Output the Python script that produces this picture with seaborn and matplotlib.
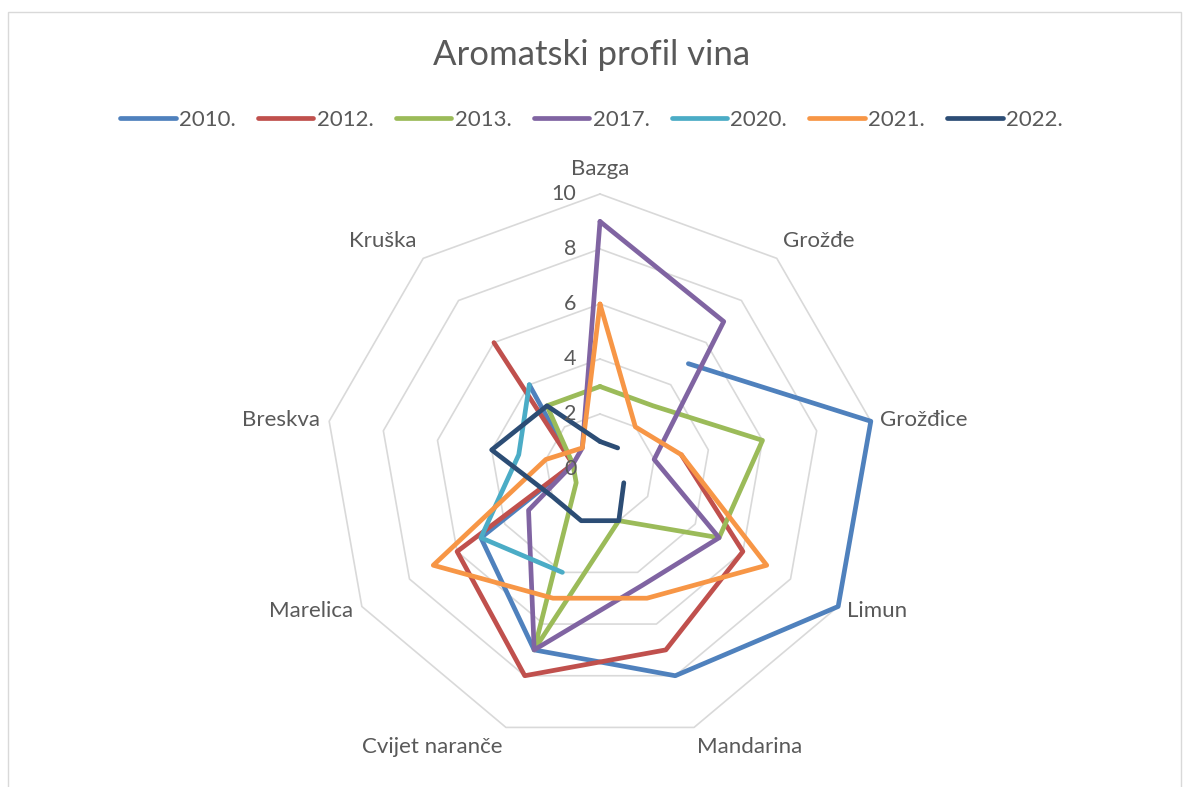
#!/usr/bin/env python3
#
# Aromatski profil vina - radar chart
#
import numpy as np
import pandas as pd
import matplotlib
matplotlib.use('Agg')
import matplotlib.pyplot as plt
from matplotlib.patches import Rectangle
import seaborn as sns

sns.set_style('white')
plt.rcParams['font.family'] = ['Lato', 'DejaVu Sans']

# Categories (clockwise from top)
categories = ['Bazga', 'Grožđe', 'Grožđice', 'Limun', 'Mandarina',
              'Cvijet naranče', 'Marelica', 'Breskva', 'Kruška']

nan = np.nan
years = ['2010.', '2012.', '2013.', '2017.', '2020.', '2021.', '2022.']
v2010 = [nan, 5, 10, 10, 8, 7, 5, 1, 4]
v2012 = [nan, nan, 3, 6, 7, 8, 6, 1, 6]
v2013 = [3, 3, 6, 5, 2, 7, 1, 1, 3]
v2017 = [9, 7, 2, 5, 4.5, 7, 3, 1, 1]
v2020 = [nan, nan, nan, nan, nan, 4, 5, 3, 4]
v2021 = [6, 2, 3, 7, 5, 5, 7, 2, 1]
v2022 = [1, 1, nan, 1, 2, 2, 2, 4, 3]
series = [v2010, v2012, v2013, v2017, v2020, v2021, v2022]

rings = [2, 4, 6, 8, 10]
tick_values = [0, 2, 4, 6, 8, 10]

colors = ['#4F81BD', '#C0504D', '#9BBB59', '#8064A2',
          '#4BACC6', '#F79646', '#2C4D75']
text_color = '#595959'
grid_color = '#D9D9D9'

n = len(categories)
angles = np.arange(n + 1) * 2 * np.pi / n

# Long table, one row per point, split into unbroken segments (gaps = missing)
rows = []
for year, vals in zip(years, series):
    closed = list(vals) + [vals[0]]
    seg = 0
    for i, v in enumerate(closed):
        if np.isnan(v):
            seg += 1
            continue
        rows.append({'theta': angles[i], 'value': v, 'year': year,
                     'seg': year + '-' + str(seg)})
df = pd.DataFrame(rows)
# drop one-point segments (nothing to draw)
counts = df.groupby('seg')['seg'].transform('size')
df = df[counts > 1]

#
# Figure
#
fig = plt.figure(figsize=(11.83, 7.87), dpi=100)
fig.patches.append(Rectangle((8 / 1183, -0.01), 1173 / 1183, 1 - 12 / 787 + 0.01,
                             transform=fig.transFigure, fill=False,
                             edgecolor=grid_color, linewidth=1))

cx, cy, R = 600, 469, 275
ax = fig.add_axes([(cx - R) / 1183, (787 - cy - R) / 787, 2 * R / 1183, 2 * R / 787],
                  projection='polar')
ax.set_theta_zero_location('N')
ax.set_theta_direction(-1)
ax.set_ylim(0, 10)
ax.grid(False)
ax.spines['polar'].set_visible(False)
ax.set_xticks([])
ax.set_yticks([])
ax.patch.set_alpha(0)

# Polygon gridlines
for r in rings:
    ax.plot(angles, [r] * (n + 1), color=grid_color, lw=1.2, zorder=1,
            clip_on=False)

sns.lineplot(data=df, x='theta', y='value', hue='year', hue_order=years,
             units='seg', estimator=None, sort=False,
             palette=dict(zip(years, colors)), linewidth=3.4, ax=ax,
             zorder=3, solid_capstyle='round', solid_joinstyle='round')
for line in ax.get_lines():
    line.set_clip_on(False)
ax.set_xlabel('')
ax.set_ylabel('')

# Radial value labels
for v in tick_values:
    ax.annotate(str(v), xy=(0, v), xytext=(-17, 0), textcoords='offset points',
                ha='right', va='center', fontsize=15.5, color=text_color)

# Category labels
for ang, cat in zip(angles[:-1], categories):
    s, c = np.sin(ang), np.cos(ang)
    ha = 'left' if s > 0.1 else ('right' if s < -0.1 else 'center')
    va = 'bottom' if c > 0.6 else ('top' if c < -0.6 else 'center')
    off = 7 if abs(s) > 0.1 else 11
    ax.annotate(cat, xy=(ang, 10), xytext=(off * s, off * c),
                textcoords='offset points', ha=ha, va=va,
                fontsize=16, color=text_color, annotation_clip=False)

# Legend
handles, labels = ax.get_legend_handles_labels()
if ax.get_legend() is not None:
    ax.get_legend().remove()
for h in handles:
    h.set_linewidth(3.4)
    h.set_solid_capstyle('round')
fig.legend(handles, labels, loc='center', bbox_to_anchor=(0.5, 1 - 120 / 787),
           ncol=7, frameon=False, fontsize=16, handlelength=2.5,
           handletextpad=0.15, columnspacing=1.0, labelcolor=text_color)

fig.text(0.5, 1 - 55 / 787, 'Aromatski profil vina', ha='center', va='center',
         fontsize=25, color=text_color)

fig.savefig('out.png', dpi=100)
